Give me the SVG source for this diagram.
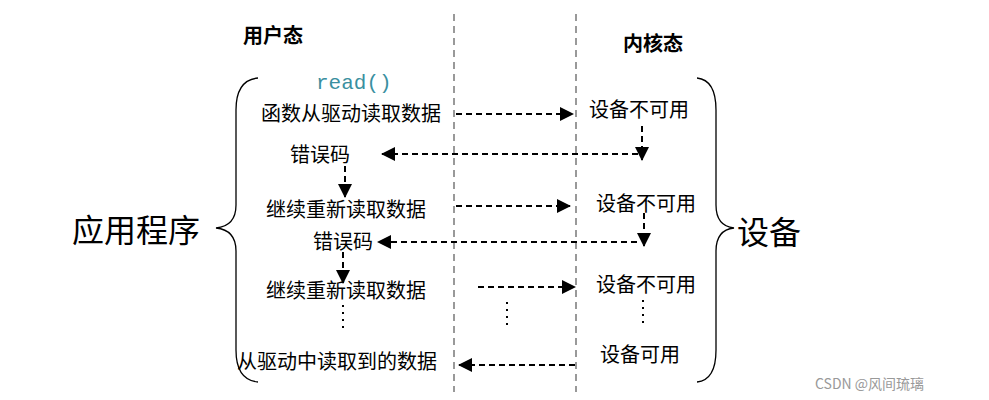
<svg xmlns="http://www.w3.org/2000/svg" width="989" height="400" viewBox="0 0 989 400">
<style>
.t{font-family:"Liberation Serif","Noto Sans CJK SC",serif;font-size:20px;fill:#000}
.b{font-family:"Noto Sans CJK SC",sans-serif;font-size:20px;font-weight:bold;fill:#000}
.big{font-family:"Liberation Serif","Noto Sans CJK SC",serif;font-size:32px;fill:#000}
.a{stroke:#000;stroke-width:2;stroke-dasharray:6,4;fill:none;marker-end:url(#ah)}
.v{stroke:#999;stroke-width:2;stroke-dasharray:7,5}
.br{stroke:#000;stroke-width:1.3;fill:none}
.d{stroke:#000;stroke-width:2;stroke-dasharray:2,5}
</style>
<defs><marker id="ah" markerWidth="14" markerHeight="14" refX="13" refY="7" orient="auto" markerUnits="userSpaceOnUse" viewBox="0 0 14 14"><path d="M0,0L14,7L0,14Z" fill="#000"/></marker></defs>
<rect width="989" height="400" fill="#fff"/>
<g id="lanes"><line class="v" x1="454" y1="14" x2="454" y2="392"/><line class="v" x1="576" y1="14" x2="576" y2="392"/></g>
<g id="headers"><text class="b" x="243" y="43">用户态</text><text class="b" x="623" y="51">内核态</text></g>
<g id="app"><path class="br" d="M258,78 Q236,80 236,110 L236,205 Q236,226 216,228 Q236,230 236,251 L236,350 Q236,380 258,382"/><text class="big" x="72" y="242">应用程序</text></g>
<g id="dev"><path class="br" d="M697,78 Q716,80 716,110 L716,205 Q716,226 734,228 Q716,230 716,251 L716,350 Q716,380 697,382"/><text class="big" x="737" y="244">设备</text></g>
<g id="nodes">
<text x="316" y="89" font-family="Liberation Mono,monospace" font-size="21" fill="#3a8fa0">read()</text>
<text class="t" x="261" y="121">函数从驱动读取数据</text>
<text class="t" x="589" y="117">设备不可用</text>
<text class="t" x="290" y="162">错误码</text>
<text class="t" x="266" y="217">继续重新读取数据</text>
<text class="t" x="596" y="211">设备不可用</text>
<text class="t" x="313" y="249">错误码</text>
<text class="t" x="266" y="298">继续重新读取数据</text>
<text class="t" x="596" y="292">设备不可用</text>
<text class="t" x="237" y="369">从驱动中读取到的数据</text>
<text class="t" x="600" y="362">设备可用</text>
<text x="815" y="389" font-family="Noto Sans CJK SC,sans-serif" font-size="14" fill="#999">CSDN @风间琉璃</text>
</g>
<g id="connectors">
<line class="a" x1="456" y1="114" x2="573" y2="114"/>
<line class="a" x1="642" y1="126" x2="642" y2="160"/>
<line class="a" x1="638" y1="154" x2="382" y2="154"/>
<line class="a" x1="345" y1="166" x2="345" y2="197"/>
<line class="a" x1="456" y1="206" x2="570" y2="206"/>
<line class="a" x1="644" y1="213" x2="644" y2="246"/>
<line class="a" x1="637" y1="242" x2="378" y2="242"/>
<line class="a" x1="343" y1="252" x2="343" y2="283"/>
<line class="a" x1="478" y1="287" x2="575" y2="287"/>
<line class="a" x1="575" y1="365" x2="459" y2="365"/>
<line class="d" x1="343" y1="305" x2="343" y2="330"/>
<line class="d" x1="507" y1="302" x2="507" y2="327"/>
<line class="d" x1="643" y1="300" x2="643" y2="325"/>
</g>
</svg>
